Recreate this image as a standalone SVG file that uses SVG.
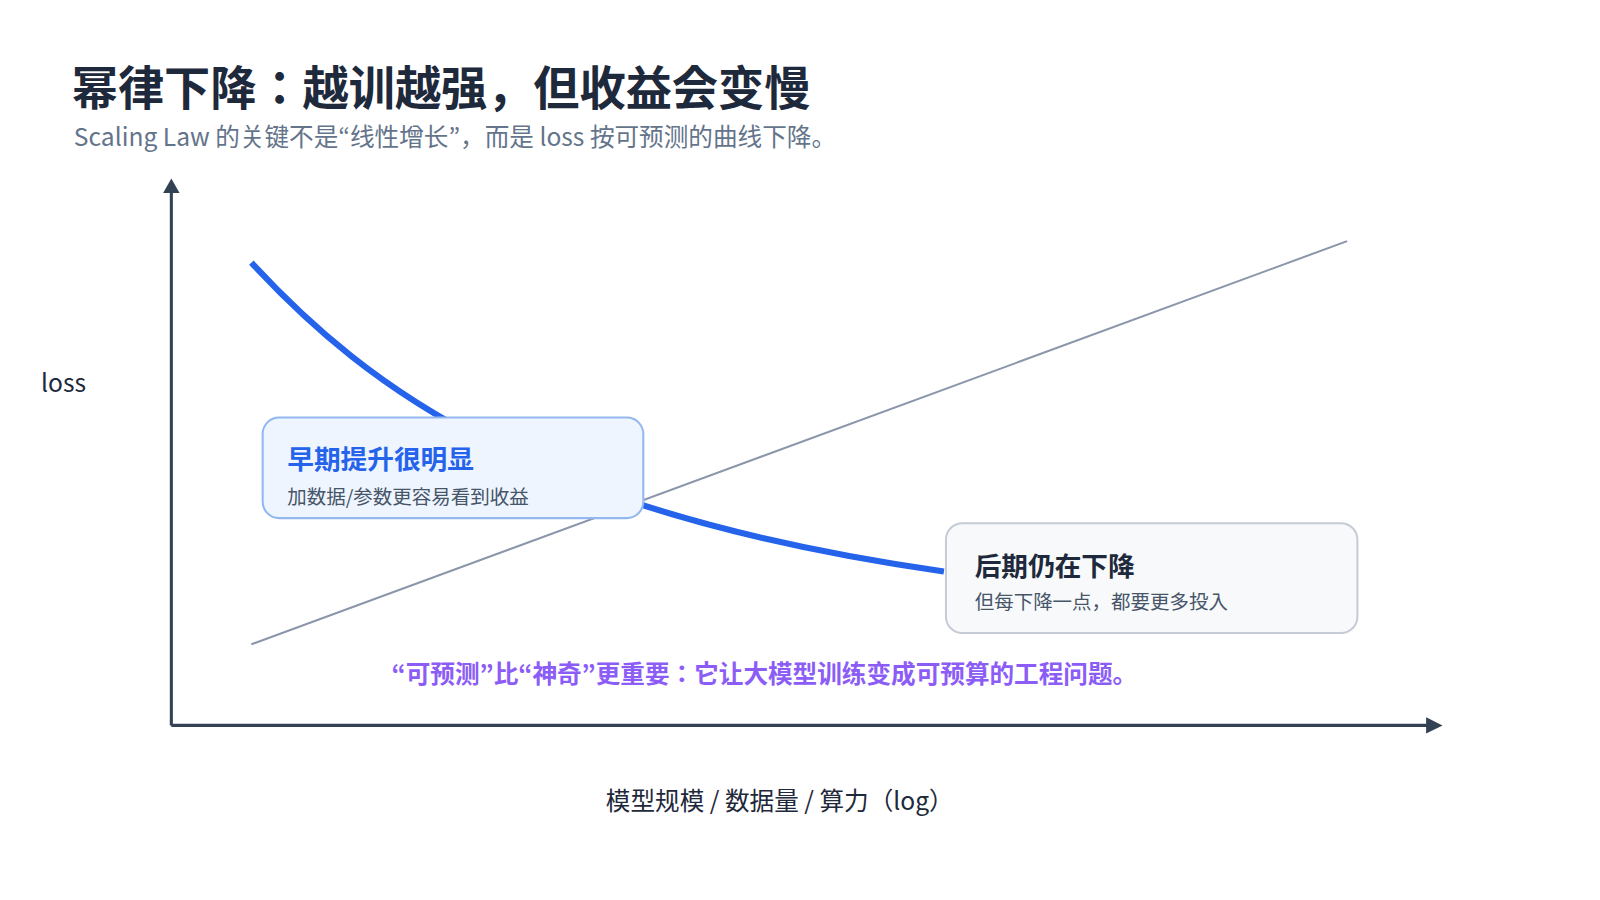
<svg xmlns="http://www.w3.org/2000/svg" width="1600" height="900" viewBox="0 0 1600 900">
<defs>
<style>
text{font-family:"Noto Sans CJK JP","Noto Sans",sans-serif}
.ax{stroke:#334155;stroke-width:3;fill:none}
</style>
</defs>
<rect width="1600" height="900" fill="#fff"/>
<g transform="scale(1.026)">
<text x="70" y="102" font-size="45" font-weight="bold" fill="#1e293b">幂律下降：越训越强，但收益会变慢</text>
<text x="72" y="142" font-size="24" fill="#64748b">Scaling Law 的关键不是“线性增长”，而是 loss 按可预测的曲线下降。</text>
<g id="connectors">
<path class="ax" d="M167,707 V184"/>
<path d="M159,188 L167,174 L175,188 Z" fill="#334155"/>
<path class="ax" d="M167,707 H1394"/>
<path d="M1390,699 L1406,707 L1390,715 Z" fill="#334155"/>
<path d="M245,628 L1313,235" stroke="#8b96ab" stroke-width="2"/>
<path d="M245,256 C360,380 520,500 920,557" stroke="#2563eb" stroke-width="6" fill="none"/>
</g>
<text x="40" y="382" font-size="24" fill="#1e293b">loss</text>
<g id="box1">
<rect x="256" y="407" width="371" height="98" rx="16" fill="#eef5ff" stroke="#93b8f0" stroke-width="2"/>
<text x="280" y="457" font-size="26" font-weight="bold" fill="#2563eb">早期提升很明显</text>
<text x="280" y="491" font-size="19" fill="#475569">加数据/参数更容易看到收益</text>
</g>
<g id="box2">
<rect x="922" y="510" width="401" height="107" rx="16" fill="#f7f9fb" stroke="#c5ccd6" stroke-width="2"/>
<text x="950" y="561" font-size="26" font-weight="bold" fill="#1e293b">后期仍在下降</text>
<text x="950" y="594" font-size="19" fill="#475569">但每下降一点，都要更多投入</text>
</g>
<text x="745" y="666" font-size="24" font-weight="bold" fill="#8b5cf6" text-anchor="middle">“可预测”比“神奇”更重要：它让大模型训练变成可预算的工程问题。</text>
<text x="760" y="789" font-size="24" fill="#1e293b" text-anchor="middle">模型规模 / 数据量 / 算力（log）</text>
</g>
</svg>
